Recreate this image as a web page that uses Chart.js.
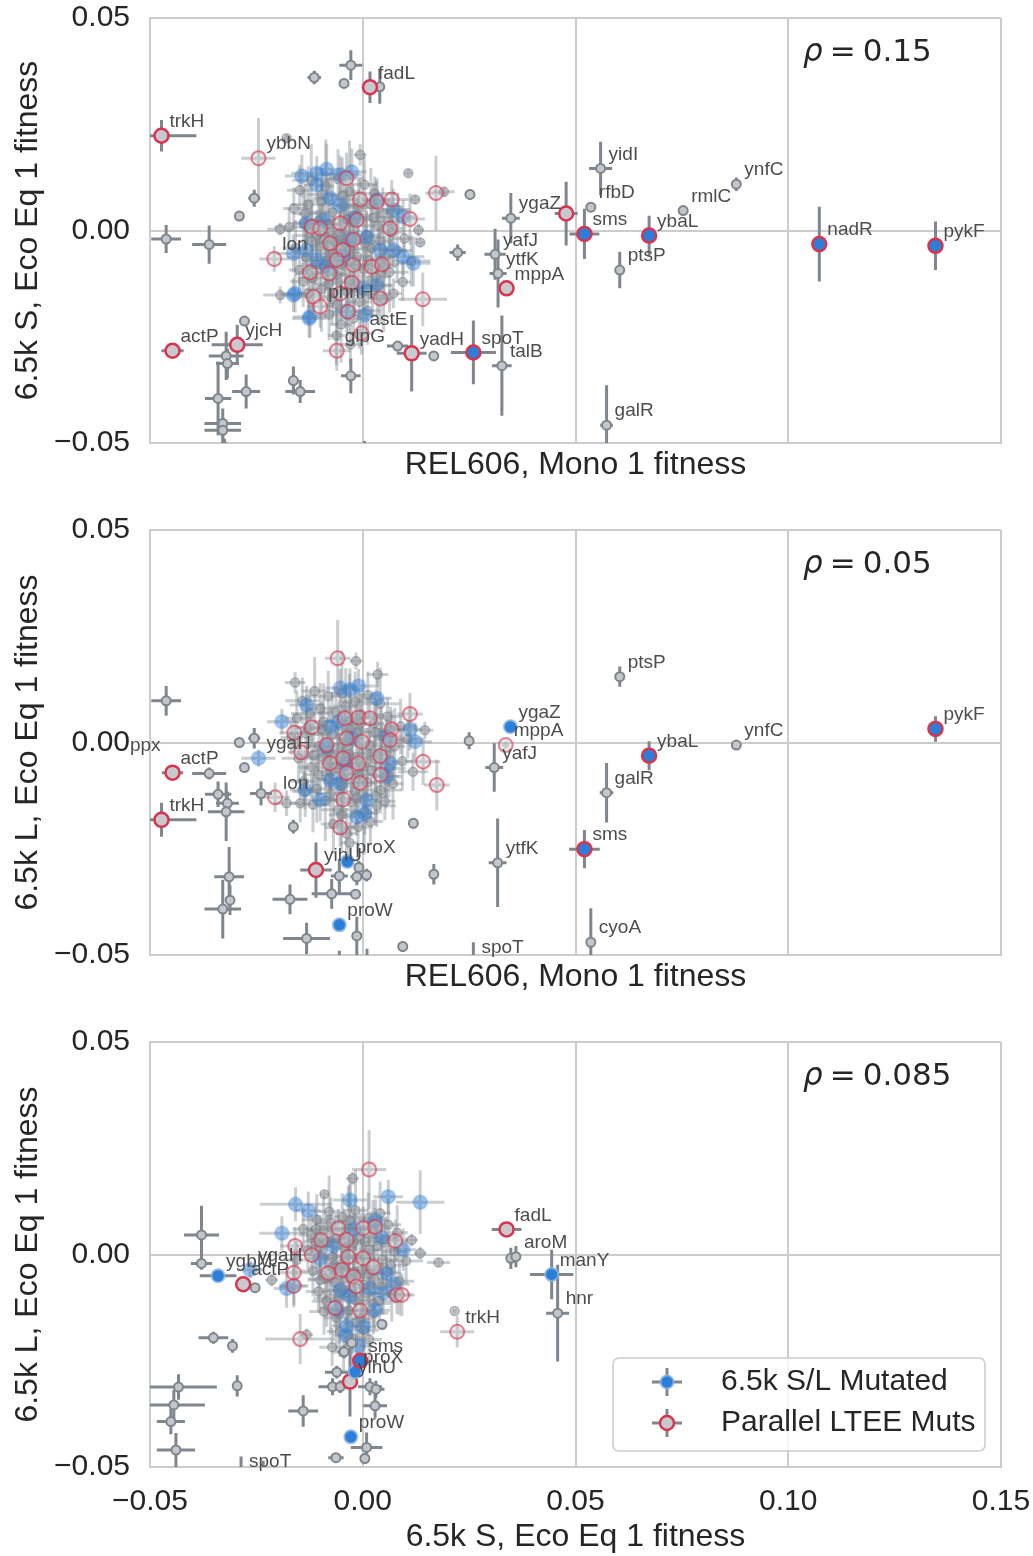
<!DOCTYPE html>
<html>
<head>
<meta charset="utf-8">
<script src="https://cdn.jsdelivr.net/npm/chart.js@4.4.1/dist/chart.umd.min.js"></script>
<style>
  body { margin: 0; background: #fff; }
  canvas { display: block; }
</style>
</head>
<body>
<canvas id="chart-top" width="1033" height="512"></canvas>
<canvas id="chart-mid" width="1033" height="512"></canvas>
<canvas id="chart-bot" width="1033" height="532"></canvas>
<script>
// each row: [x, y, xerr, yerr, gene label (optional)]

const xTicks = [-0.05, 0.00, 0.05, 0.10, 0.15];
const yTicks = [-0.05, 0.00, 0.05];
const rhoValues = ['0.15', '0.05', '0.085'];
const legendNames = ['6.5k S/L Mutated', 'Parallel LTEE Muts'];

// ---- top panel: REL606 Mono 1 vs 6.5k S Eco Eq 1 ----
const topGray = [
  [-0.0006, 0.0178, 0.0015, 0.0025], [0.0107, 0.0135, 0.0008, 0.0008], [0.0123, 0.0073, 0.0010, 0.0010],
  [0.0131, 0.0001, 0.0012, 0.0015], [-0.0194, 0.0003, 0.0030, 0.0015], [-0.0194, -0.0152, 0.0040, 0.0020],
  [0.0072, -0.0148, 0.0020, 0.0035], [-0.0179, 0.0217, 0.0010, 0.0010], [0.0191, 0.0091, 0.0025, 0.0012],
  [0.0135, -0.0028, 0.0010, 0.0010],
  [-0.0148, 0.0095, 0.0030, 0.0060], [-0.0121, 0.0118, 0.0045, 0.0085], [-0.0087, 0.0104, 0.0020, 0.0110],
  [-0.0058, 0.0121, 0.0035, 0.0070], [-0.0031, 0.0092, 0.0025, 0.0120], [0.0004, 0.0108, 0.0030, 0.0065],
  [0.0028, 0.0087, 0.0050, 0.0040], [-0.0162, 0.0052, 0.0025, 0.0050], [-0.0128, 0.0061, 0.0040, 0.0090],
  [-0.0097, 0.0069, 0.0030, 0.0055], [-0.0071, 0.0043, 0.0055, 0.0100], [-0.0043, 0.0058, 0.0025, 0.0075],
  [-0.0012, 0.0036, 0.0035, 0.0045], [0.0019, 0.0062, 0.0045, 0.0085], [0.0047, 0.0041, 0.0020, 0.0060],
  [0.0083, 0.0049, 0.0030, 0.0040], [-0.0173, 0.0008, 0.0035, 0.0045], [-0.0139, 0.0017, 0.0025, 0.0080],
  [-0.0108, -0.0012, 0.0050, 0.0060], [-0.0082, 0.0014, 0.0030, 0.0110], [-0.0054, -0.0006, 0.0040, 0.0050],
  [-0.0023, 0.0019, 0.0025, 0.0090], [0.0008, -0.0011, 0.0035, 0.0070], [0.0036, 0.0011, 0.0045, 0.0055],
  [0.0068, -0.0004, 0.0025, 0.0080], [0.0098, -0.0019, 0.0030, 0.0045], [-0.0158, -0.0041, 0.0030, 0.0065],
  [-0.0133, -0.0063, 0.0045, 0.0050], [-0.0101, -0.0038, 0.0025, 0.0095], [-0.0069, -0.0054, 0.0035, 0.0070],
  [-0.0041, -0.0029, 0.0050, 0.0085], [-0.0013, -0.0061, 0.0030, 0.0060], [0.0021, -0.0042, 0.0040, 0.0100],
  [0.0052, -0.0063, 0.0025, 0.0050], [0.0081, -0.0047, 0.0035, 0.0075], [0.0114, -0.0072, 0.0045, 0.0060],
  [-0.0149, -0.0093, 0.0025, 0.0055], [-0.0118, -0.0112, 0.0035, 0.0090], [-0.0089, -0.0088, 0.0040, 0.0070],
  [-0.0061, -0.0104, 0.0030, 0.0120], [-0.0032, -0.0118, 0.0050, 0.0065], [0.0003, -0.0091, 0.0025, 0.0085],
  [0.0031, -0.0109, 0.0035, 0.0055], [0.0063, -0.0098, 0.0045, 0.0095], [0.0094, -0.0121, 0.0020, 0.0045],
  [-0.0128, -0.0149, 0.0030, 0.0070], [-0.0097, -0.0138, 0.0040, 0.0100], [-0.0072, -0.0161, 0.0025, 0.0060],
  [-0.0039, -0.0143, 0.0035, 0.0085], [-0.0008, -0.0168, 0.0030, 0.0110], [0.0023, -0.0152, 0.0045, 0.0050],
  [0.0049, -0.0163, 0.0020, 0.0075], [-0.0079, -0.0198, 0.0030, 0.0060], [-0.0051, -0.0221, 0.0025, 0.0090],
  [-0.0022, -0.0207, 0.0035, 0.0065], [0.0011, -0.0189, 0.0030, 0.0080], [-0.0062, -0.0247, 0.0020, 0.0070],
  [-0.0029, -0.0268, 0.0025, 0.0050], [-0.0104, 0.0023, 0.0030, 0.0060], [-0.0036, 0.0027, 0.0040, 0.0070],
  [-0.0067, -0.0027, 0.0030, 0.0080], [-0.0019, -0.0081, 0.0035, 0.0060], [-0.0084, -0.0071, 0.0030, 0.0065],
  [-0.0135, 0.0040, 0.0030, 0.0070], [-0.0095, 0.0085, 0.0035, 0.0060], [-0.0048, 0.0082, 0.0030, 0.0090],
  [-0.0010, 0.0055, 0.0040, 0.0065], [0.0025, 0.0030, 0.0030, 0.0080], [0.0060, 0.0022, 0.0035, 0.0055],
  [-0.0120, -0.0025, 0.0030, 0.0075], [-0.0088, -0.0015, 0.0040, 0.0060], [-0.0030, -0.0045, 0.0030, 0.0085],
  [0.0005, -0.0030, 0.0035, 0.0060], [0.0040, -0.0025, 0.0030, 0.0070], [-0.0110, -0.0080, 0.0035, 0.0065],
  [-0.0050, -0.0080, 0.0030, 0.0090], [0.0015, -0.0070, 0.0040, 0.0060], [0.0050, -0.0085, 0.0030, 0.0075],
  [-0.0080, -0.0125, 0.0035, 0.0080], [-0.0020, -0.0135, 0.0030, 0.0065], [0.0035, -0.0130, 0.0035, 0.0070],
  [-0.0060, -0.0175, 0.0030, 0.0085], [-0.0140, -0.0120, 0.0030, 0.0060]
];
const topBlue = [
  [-0.0143, 0.0128, 0.0040, 0.0050], [-0.0108, 0.0135, 0.0060, 0.0040], [-0.0085, 0.0144, 0.0030, 0.0060],
  [-0.0053, 0.0131, 0.0050, 0.0045], [-0.0026, 0.0138, 0.0035, 0.0055], [-0.0108, 0.0107, 0.0030, 0.0035],
  [-0.0077, 0.0076, 0.0040, 0.0060], [-0.0053, 0.0060, 0.0030, 0.0050], [-0.0132, 0.0017, 0.0035, 0.0055],
  [-0.0093, 0.0025, 0.0030, 0.0040], [-0.0163, -0.0054, 0.0040, 0.0045], [-0.0132, -0.0046, 0.0030, 0.0060],
  [-0.0108, -0.0069, 0.0035, 0.0050], [-0.0085, -0.0085, 0.0030, 0.0055], [-0.0030, -0.0022, 0.0040, 0.0045],
  [0.0009, -0.0015, 0.0030, 0.0060], [0.0041, -0.0046, 0.0035, 0.0050], [0.0072, -0.0046, 0.0030, 0.0040],
  [0.0095, -0.0062, 0.0050, 0.0045], [0.0119, -0.0077, 0.0040, 0.0055], [0.0033, 0.0072, 0.0030, 0.0045],
  [0.0072, 0.0048, 0.0035, 0.0050], [0.0095, 0.0032, 0.0030, 0.0040], [-0.0159, -0.0148, 0.0035, 0.0045],
  [-0.0124, -0.0203, 0.0040, 0.0050], [0.0005, -0.0199, 0.0030, 0.0055], [0.0033, -0.0128, 0.0035, 0.0045],
  [0.0001, -0.0136, 0.0030, 0.0060], [-0.0038, -0.0191, 0.0035, 0.0050], [-0.0126, -0.0207, 0.0040, 0.0045],
  [-0.0163, -0.0152, 0.0030, 0.0040], [-0.0045, -0.0060, 0.0030, 0.0050], [-0.0020, 0.0030, 0.0030, 0.0050]
];
const topRed = [
  [-0.0038, 0.0123, 0.0040, 0.0060], [-0.0006, 0.0073, 0.0035, 0.0050], [0.0033, 0.0068, 0.0030, 0.0055],
  [0.0068, 0.0073, 0.0040, 0.0045], [0.0111, 0.0027, 0.0035, 0.0060], [0.0172, 0.0088, 0.0025, 0.0088],
  [-0.0120, 0.0009, 0.0030, 0.0050], [-0.0100, 0.0005, 0.0035, 0.0045], [-0.0053, 0.0017, 0.0030, 0.0060],
  [-0.0014, 0.0025, 0.0040, 0.0050], [0.0064, 0.0005, 0.0030, 0.0045], [-0.0077, -0.0030, 0.0035, 0.0055],
  [-0.0046, -0.0046, 0.0030, 0.0050], [-0.0022, -0.0022, 0.0040, 0.0045], [-0.0061, -0.0069, 0.0030, 0.0060],
  [-0.0022, -0.0081, 0.0035, 0.0050], [0.0021, -0.0085, 0.0030, 0.0055], [0.0045, -0.0080, 0.0040, 0.0045],
  [-0.0124, -0.0099, 0.0030, 0.0050], [-0.0079, -0.0101, 0.0035, 0.0060], [-0.0026, -0.0123, 0.0030, 0.0050],
  [-0.0116, -0.0156, 0.0040, 0.0055], [-0.0053, -0.0148, 0.0030, 0.0045], [-0.0034, -0.0191, 0.0035, 0.0050],
  [0.0041, -0.0160, 0.0030, 0.0060], [0.0141, -0.0162, 0.0057, 0.0063],
  [-0.0245, 0.0170, 0.0040, 0.0095, 'ybbN'], [-0.0208, -0.0067, 0.0035, 0.0030, 'lon'],
  [-0.0100, -0.0179, 0.0030, 0.0050, 'phnH'], [-0.0003, -0.0242, 0.0030, 0.0050, 'astE'],
  [-0.0061, -0.0283, 0.0033, 0.0047, 'glpG']
];
const topGrayHi = [
  [-0.0028, 0.0389, 0.0027, 0.0035], [-0.0114, 0.0360, 0.0016, 0.0016], [-0.0044, 0.0346, 0.0005, 0.0005],
  [0.0040, 0.0338, 0.0012, 0.0040], [-0.0255, 0.0076, 0.0014, 0.0020], [-0.0290, 0.0034, 0.0008, 0.0010],
  [-0.0462, -0.0020, 0.0035, 0.0033], [-0.0361, -0.0033, 0.0040, 0.0045], [0.0252, 0.0085, 0.0012, 0.0012],
  [0.0223, -0.0052, 0.0019, 0.0019],
  [0.0348, 0.0029, 0.0021, 0.0059, 'ygaZ'], [0.0311, -0.0056, 0.0025, 0.0060, 'yafJ'],
  [0.0318, -0.0101, 0.0020, 0.0080, 'ytfK'], [0.0559, 0.0146, 0.0027, 0.0063, 'yidI'],
  [0.0536, 0.0055, 0.0006, 0.0006, 'rfbD'], [0.0878, 0.0109, 0.0006, 0.0016, 'ynfC'],
  [0.0753, 0.0047, 0.0005, 0.0010, 'rmlC'], [0.0604, -0.0093, 0.0006, 0.0043, 'ptsP'],
  [0.0573, -0.0458, 0.0015, 0.0094, 'galR'], [0.0327, -0.0318, 0.0023, 0.0118, 'talB'],
  [-0.0278, -0.0213, 0.0010, 0.0006], [-0.0321, -0.0295, 0.0041, 0.0057], [-0.0318, -0.0313, 0.0027, 0.0035],
  [-0.0274, -0.0379, 0.0033, 0.0040], [-0.0340, -0.0395, 0.0031, 0.0087], [-0.0329, -0.0454, 0.0043, 0.0035],
  [-0.0329, -0.0470, 0.0043, 0.0030], [-0.0325, -0.0510, 0.0010, 0.0020], [-0.0163, -0.0353, 0.0012, 0.0033],
  [-0.0147, -0.0379, 0.0035, 0.0027], [-0.0028, -0.0342, 0.0023, 0.0041], [0.0082, -0.0272, 0.0025, 0.0012],
  [0.0167, -0.0295, 0.0008, 0.0008], [0.0004, -0.0520, 0.0008, 0.0025]
];
const topRedHi = [
  [-0.0473, 0.0223, 0.0082, 0.0037, 'trkH'], [0.0017, 0.0337, 0.0008, 0.0037, 'fadL'],
  [-0.0447, -0.0283, 0.0026, 0.0008, 'actP'], [-0.0295, -0.0269, 0.0060, 0.0047, 'yjcH'],
  [0.0115, -0.0289, 0.0035, 0.0090, 'yadH'], [0.0478, 0.0040, 0.0027, 0.0075],
  [0.0338, -0.0136, 0.0006, 0.0010, 'mppA']
];
const topBlueHi = [];
const topBoth = [
  [0.0521, -0.0008, 0.0035, 0.0059, 'sms'], [0.0673, -0.0012, 0.0006, 0.0047, 'ybaL'],
  [0.1073, -0.0032, 0.0006, 0.0088, 'nadR'], [0.1346, -0.0036, 0.0006, 0.0057, 'pykF'],
  [0.0260, -0.0287, 0.0053, 0.0075, 'spoT']
];

// ---- middle panel: REL606 Mono 1 vs 6.5k L Eco Eq 1 ----
const midGray = [
  [-0.0159, 0.0141, 0.0024, 0.0025], [-0.0016, 0.0192, 0.0015, 0.0020], [0.0146, 0.0029, 0.0020, 0.0020],
  [-0.0179, -0.0143, 0.0030, 0.0030], [-0.0147, -0.0143, 0.0025, 0.0045], [0.0035, 0.0160, 0.0025, 0.0030],
  [-0.0142, 0.0098, 0.0040, 0.0055], [-0.0113, 0.0121, 0.0030, 0.0080], [-0.0081, 0.0109, 0.0055, 0.0060],
  [-0.0049, 0.0116, 0.0025, 0.0100], [-0.0018, 0.0097, 0.0040, 0.0070], [0.0012, 0.0112, 0.0030, 0.0055],
  [0.0041, 0.0091, 0.0045, 0.0085], [-0.0155, 0.0057, 0.0030, 0.0065], [-0.0124, 0.0068, 0.0045, 0.0050],
  [-0.0092, 0.0049, 0.0025, 0.0090], [-0.0063, 0.0071, 0.0040, 0.0060], [-0.0031, 0.0052, 0.0030, 0.0110],
  [-0.0004, 0.0066, 0.0055, 0.0050], [0.0027, 0.0044, 0.0025, 0.0075], [0.0058, 0.0061, 0.0035, 0.0045],
  [0.0089, 0.0038, 0.0040, 0.0065], [-0.0168, 0.0012, 0.0025, 0.0040], [-0.0134, 0.0021, 0.0040, 0.0085],
  [-0.0103, -0.0008, 0.0030, 0.0060], [-0.0072, 0.0019, 0.0050, 0.0100], [-0.0046, -0.0003, 0.0025, 0.0055],
  [-0.0015, 0.0024, 0.0035, 0.0080], [0.0016, -0.0007, 0.0045, 0.0050], [0.0044, 0.0016, 0.0030, 0.0070],
  [0.0075, -0.0009, 0.0025, 0.0090], [0.0106, 0.0008, 0.0035, 0.0045], [-0.0151, -0.0037, 0.0040, 0.0060],
  [-0.0121, -0.0058, 0.0030, 0.0075], [-0.0094, -0.0034, 0.0045, 0.0055], [-0.0060, -0.0051, 0.0025, 0.0095],
  [-0.0033, -0.0027, 0.0035, 0.0065], [-0.0002, -0.0056, 0.0050, 0.0050], [0.0029, -0.0039, 0.0030, 0.0085],
  [0.0061, -0.0061, 0.0040, 0.0060], [0.0093, -0.0044, 0.0025, 0.0070], [0.0118, -0.0069, 0.0035, 0.0045],
  [-0.0139, -0.0091, 0.0030, 0.0055], [-0.0108, -0.0109, 0.0045, 0.0080], [-0.0079, -0.0086, 0.0025, 0.0065],
  [-0.0049, -0.0103, 0.0040, 0.0110], [-0.0019, -0.0116, 0.0030, 0.0060], [0.0011, -0.0094, 0.0035, 0.0075],
  [0.0042, -0.0112, 0.0050, 0.0055], [0.0071, -0.0097, 0.0025, 0.0085], [-0.0117, -0.0146, 0.0035, 0.0065],
  [-0.0088, -0.0137, 0.0030, 0.0095], [-0.0058, -0.0158, 0.0040, 0.0055], [-0.0027, -0.0141, 0.0025, 0.0080],
  [0.0004, -0.0164, 0.0035, 0.0100], [0.0033, -0.0149, 0.0045, 0.0050], [-0.0069, -0.0192, 0.0030, 0.0070],
  [-0.0038, -0.0214, 0.0025, 0.0060], [-0.0011, -0.0199, 0.0035, 0.0085], [0.0018, -0.0186, 0.0030, 0.0055],
  [-0.0096, 0.0032, 0.0030, 0.0065], [-0.0027, 0.0031, 0.0040, 0.0075], [-0.0058, -0.0024, 0.0030, 0.0085],
  [-0.0009, -0.0076, 0.0035, 0.0060], [-0.0074, -0.0068, 0.0030, 0.0070], [0.0052, -0.0138, 0.0025, 0.0045],
  [-0.0031, -0.0236, 0.0020, 0.0050],
  [-0.0130, 0.0035, 0.0030, 0.0070], [-0.0100, 0.0080, 0.0035, 0.0060], [-0.0040, 0.0085, 0.0030, 0.0090],
  [-0.0005, 0.0045, 0.0040, 0.0065], [0.0030, 0.0025, 0.0030, 0.0080], [0.0065, 0.0030, 0.0035, 0.0055],
  [-0.0115, -0.0030, 0.0030, 0.0075], [-0.0080, -0.0020, 0.0040, 0.0060], [-0.0025, -0.0040, 0.0030, 0.0085],
  [0.0010, -0.0025, 0.0035, 0.0060], [0.0045, -0.0020, 0.0030, 0.0070], [-0.0105, -0.0075, 0.0035, 0.0065],
  [-0.0045, -0.0085, 0.0030, 0.0090], [0.0020, -0.0065, 0.0040, 0.0060], [0.0055, -0.0080, 0.0030, 0.0075],
  [-0.0075, -0.0120, 0.0035, 0.0080], [-0.0015, -0.0130, 0.0030, 0.0065], [0.0030, -0.0125, 0.0035, 0.0070],
  [-0.0050, -0.0170, 0.0030, 0.0085], [-0.0135, -0.0115, 0.0030, 0.0060]
];
const midBlue = [
  [-0.0053, 0.0128, 0.0035, 0.0045], [-0.0030, 0.0124, 0.0030, 0.0050], [-0.0010, 0.0133, 0.0040, 0.0040],
  [0.0033, 0.0104, 0.0035, 0.0050], [-0.0132, 0.0088, 0.0040, 0.0045], [-0.0190, 0.0049, 0.0035, 0.0030],
  [-0.0077, 0.0037, 0.0030, 0.0050], [-0.0057, 0.0049, 0.0035, 0.0045], [-0.0085, -0.0010, 0.0030, 0.0055],
  [0.0056, 0.0014, 0.0035, 0.0045], [0.0111, 0.0031, 0.0030, 0.0050], [0.0123, 0.0002, 0.0040, 0.0045],
  [0.0064, -0.0049, 0.0030, 0.0055], [0.0056, -0.0080, 0.0035, 0.0045], [-0.0077, -0.0088, 0.0030, 0.0050],
  [-0.0053, -0.0096, 0.0035, 0.0045], [-0.0100, -0.0135, 0.0040, 0.0050], [0.0009, -0.0135, 0.0030, 0.0055],
  [-0.0014, -0.0175, 0.0035, 0.0045], [0.0005, -0.0167, 0.0030, 0.0050], [-0.0136, -0.0112, 0.0035, 0.0045],
  [-0.0025, 0.0010, 0.0030, 0.0050], [-0.0040, -0.0050, 0.0030, 0.0045],
  [-0.0245, -0.0037, 0.0040, 0.0020, 'ygaH']
];
const midRed = [
  [-0.0161, 0.0023, 0.0035, 0.0045], [-0.0145, -0.0023, 0.0030, 0.0050], [-0.0120, 0.0036, 0.0035, 0.0045],
  [-0.0085, -0.0006, 0.0030, 0.0055], [-0.0077, -0.0049, 0.0035, 0.0045], [-0.0042, 0.0057, 0.0030, 0.0050],
  [-0.0010, 0.0059, 0.0035, 0.0045], [0.0017, 0.0057, 0.0030, 0.0055], [0.0068, 0.0031, 0.0035, 0.0045],
  [0.0111, 0.0067, 0.0030, 0.0050], [-0.0038, 0.0010, 0.0035, 0.0045], [-0.0002, 0.0002, 0.0030, 0.0050],
  [-0.0046, -0.0037, 0.0035, 0.0045], [-0.0010, -0.0049, 0.0030, 0.0055], [-0.0038, -0.0072, 0.0035, 0.0045],
  [0.0041, -0.0032, 0.0030, 0.0050], [0.0064, 0.0006, 0.0035, 0.0045], [0.0042, -0.0076, 0.0030, 0.0055],
  [-0.0006, -0.0095, 0.0035, 0.0045], [0.0142, -0.0045, 0.0040, 0.0055], [0.0174, -0.0100, 0.0030, 0.0060],
  [-0.0046, -0.0134, 0.0035, 0.0045], [-0.0059, 0.0198, 0.0030, 0.0090], [-0.0053, -0.0200, 0.0037, 0.0045],
  [0.0336, -0.0006, 0.0008, 0.0008, 'mppA'], [-0.0206, -0.0129, 0.0035, 0.0035, 'lon']
];
const midGrayHi = [
  [-0.0462, 0.0098, 0.0035, 0.0035], [-0.0361, -0.0073, 0.0040, 0.0014], [-0.0290, 0.0000, 0.0008, 0.0008],
  [-0.0255, 0.0010, 0.0014, 0.0024], [-0.0278, -0.0059, 0.0010, 0.0008], [-0.0340, -0.0122, 0.0031, 0.0030],
  [-0.0318, -0.0143, 0.0027, 0.0028], [-0.0321, -0.0163, 0.0043, 0.0069], [-0.0239, -0.0120, 0.0026, 0.0028],
  [-0.0163, -0.0198, 0.0008, 0.0016], [-0.0055, -0.0314, 0.0020, 0.0040], [-0.0014, -0.0316, 0.0015, 0.0020],
  [0.0009, -0.0312, 0.0012, 0.0015], [-0.0009, -0.0294, 0.0010, 0.0015], [-0.0073, -0.0356, 0.0047, 0.0035],
  [-0.0017, -0.0357, 0.0012, 0.0010], [-0.0171, -0.0369, 0.0041, 0.0035], [-0.0314, -0.0316, 0.0035, 0.0070],
  [-0.0312, -0.0371, 0.0010, 0.0035], [-0.0329, -0.0392, 0.0043, 0.0069], [-0.0132, -0.0461, 0.0055, 0.0037],
  [-0.0014, -0.0455, 0.0010, 0.0045], [0.0094, -0.0480, 0.0006, 0.0012], [0.0119, -0.0190, 0.0006, 0.0012],
  [0.0167, -0.0310, 0.0006, 0.0024], [0.0250, 0.0004, 0.0010, 0.0020], [-0.0055, -0.0520, 0.0010, 0.0030],
  [0.0010, -0.0515, 0.0010, 0.0030],
  [0.0317, -0.0283, 0.0021, 0.0104, 'ytfK'], [0.0309, -0.0059, 0.0021, 0.0057, 'yafJ'],
  [0.0604, 0.0155, 0.0006, 0.0024, 'ptsP'], [0.0878, -0.0006, 0.0006, 0.0006, 'ynfC'],
  [0.0573, -0.0118, 0.0016, 0.0070, 'galR'], [0.0536, -0.0470, 0.0006, 0.0080, 'cyoA'],
  [0.0260, -0.0515, 0.0006, 0.0045, 'spoT'], [-0.0566, -0.0040, 0.0010, 0.0010, 'ppx']
];
const midRedHi = [
  [-0.0447, -0.0071, 0.0025, 0.0018, 'actP'], [-0.0473, -0.0182, 0.0082, 0.0040, 'trkH'],
  [-0.0110, -0.0300, 0.0037, 0.0065, 'yihU']
];
const midBlueHi = [
  [-0.0055, -0.0429, 0.0012, 0.0008, 'proW'], [-0.0036, -0.0280, 0.0010, 0.0010, 'proX'],
  [0.0347, 0.0037, 0.0012, 0.0010, 'ygaZ']
];
const midBoth = [
  [0.0673, -0.0031, 0.0006, 0.0034, 'ybaL'], [0.1346, 0.0032, 0.0006, 0.0030, 'pykF'],
  [0.0521, -0.0251, 0.0036, 0.0045, 'sms']
];

// ---- bottom panel: 6.5k S Eco Eq 1 vs 6.5k L Eco Eq 1 ----
const botGray = [
  [-0.0024, 0.0179, 0.0015, 0.0015], [-0.0090, 0.0142, 0.0010, 0.0008], [0.0115, 0.0034, 0.0015, 0.0015],
  [0.0135, 0.0003, 0.0015, 0.0015], [0.0178, -0.0019, 0.0027, 0.0010], [0.0216, -0.0133, 0.0005, 0.0005],
  [-0.0214, -0.0060, 0.0015, 0.0015], [-0.0132, -0.0189, 0.0015, 0.0015], [0.0046, -0.0166, 0.0010, 0.0010],
  [-0.0108, 0.0082, 0.0035, 0.0060], [-0.0079, 0.0101, 0.0025, 0.0085], [-0.0048, 0.0089, 0.0040, 0.0055],
  [-0.0017, 0.0104, 0.0030, 0.0095], [0.0013, 0.0086, 0.0045, 0.0060], [0.0041, 0.0097, 0.0025, 0.0075],
  [-0.0121, 0.0046, 0.0030, 0.0050], [-0.0092, 0.0057, 0.0040, 0.0080], [-0.0063, 0.0038, 0.0025, 0.0060],
  [-0.0034, 0.0061, 0.0035, 0.0100], [-0.0006, 0.0043, 0.0050, 0.0055], [0.0024, 0.0058, 0.0030, 0.0070],
  [0.0053, 0.0036, 0.0040, 0.0050], [0.0081, 0.0051, 0.0025, 0.0065], [-0.0129, 0.0009, 0.0035, 0.0045],
  [-0.0101, 0.0018, 0.0025, 0.0075], [-0.0072, -0.0006, 0.0045, 0.0060], [-0.0043, 0.0014, 0.0030, 0.0090],
  [-0.0014, -0.0009, 0.0040, 0.0050], [0.0017, 0.0011, 0.0025, 0.0080], [0.0046, -0.0012, 0.0035, 0.0060],
  [0.0074, 0.0007, 0.0030, 0.0045], [0.0102, -0.0015, 0.0040, 0.0055], [-0.0117, -0.0039, 0.0030, 0.0060],
  [-0.0088, -0.0057, 0.0040, 0.0075], [-0.0061, -0.0032, 0.0025, 0.0050], [-0.0031, -0.0054, 0.0035, 0.0095],
  [-0.0002, -0.0036, 0.0045, 0.0060], [0.0028, -0.0058, 0.0030, 0.0070], [0.0057, -0.0041, 0.0025, 0.0055],
  [0.0086, -0.0063, 0.0035, 0.0080], [-0.0104, -0.0087, 0.0030, 0.0050], [-0.0076, -0.0103, 0.0040, 0.0085],
  [-0.0047, -0.0084, 0.0025, 0.0060], [-0.0018, -0.0107, 0.0035, 0.0070], [0.0011, -0.0091, 0.0030, 0.0100],
  [0.0039, -0.0109, 0.0045, 0.0055], [0.0068, -0.0093, 0.0025, 0.0065], [-0.0091, -0.0134, 0.0035, 0.0055],
  [-0.0062, -0.0149, 0.0030, 0.0080], [-0.0033, -0.0131, 0.0040, 0.0060], [-0.0004, -0.0152, 0.0025, 0.0090],
  [0.0025, -0.0138, 0.0035, 0.0050], [-0.0054, -0.0181, 0.0030, 0.0060], [-0.0026, -0.0196, 0.0025, 0.0070],
  [0.0003, -0.0178, 0.0035, 0.0055], [-0.0072, -0.0218, 0.0030, 0.0045], [-0.0085, 0.0031, 0.0030, 0.0060],
  [-0.0022, 0.0027, 0.0040, 0.0070], [-0.0050, -0.0022, 0.0030, 0.0085], [0.0002, -0.0071, 0.0035, 0.0060],
  [-0.0065, -0.0066, 0.0030, 0.0070], [-0.0155, -0.0013, 0.0030, 0.0045], [-0.0140, 0.0060, 0.0025, 0.0050],
  [-0.0110, 0.0030, 0.0030, 0.0065], [-0.0075, 0.0075, 0.0035, 0.0060], [-0.0030, 0.0080, 0.0030, 0.0085],
  [0.0005, 0.0030, 0.0040, 0.0060], [0.0035, 0.0020, 0.0030, 0.0075], [0.0065, -0.0025, 0.0035, 0.0055],
  [-0.0100, -0.0060, 0.0030, 0.0070], [-0.0070, -0.0030, 0.0040, 0.0060], [-0.0020, -0.0040, 0.0030, 0.0080],
  [0.0015, -0.0045, 0.0035, 0.0060], [0.0045, -0.0075, 0.0030, 0.0065], [-0.0085, -0.0110, 0.0035, 0.0060],
  [-0.0035, -0.0090, 0.0030, 0.0085], [0.0025, -0.0115, 0.0040, 0.0055], [-0.0055, -0.0140, 0.0030, 0.0070],
  [-0.0015, -0.0160, 0.0035, 0.0075], [0.0015, -0.0200, 0.0030, 0.0060], [-0.0045, -0.0230, 0.0025, 0.0050],
  [-0.0110, 0.0060, 0.0030, 0.0055], [0.0060, 0.0070, 0.0030, 0.0060]
];
const botBlue = [
  [0.0135, 0.0123, 0.0057, 0.0075], [-0.0158, 0.0118, 0.0084, 0.0040], [-0.0128, 0.0103, 0.0030, 0.0045],
  [-0.0030, 0.0128, 0.0040, 0.0060], [0.0060, 0.0136, 0.0035, 0.0040], [-0.0190, 0.0050, 0.0053, 0.0040],
  [-0.0162, -0.0074, 0.0035, 0.0045], [-0.0179, -0.0080, 0.0030, 0.0045], [-0.0038, -0.0168, 0.0035, 0.0045],
  [0.0001, -0.0170, 0.0030, 0.0050], [0.0029, -0.0131, 0.0035, 0.0045], [0.0095, 0.0011, 0.0030, 0.0050],
  [0.0056, -0.0044, 0.0035, 0.0045], [0.0048, -0.0091, 0.0030, 0.0050], [0.0017, -0.0080, 0.0035, 0.0045],
  [-0.0053, -0.0084, 0.0030, 0.0050], [-0.0030, -0.0099, 0.0035, 0.0045], [-0.0100, -0.0010, 0.0030, 0.0050],
  [-0.0070, 0.0020, 0.0035, 0.0045], [0.0030, 0.0080, 0.0030, 0.0050], [0.0045, 0.0040, 0.0035, 0.0045],
  [-0.0060, -0.0130, 0.0030, 0.0050], [0.0075, -0.0070, 0.0035, 0.0045], [-0.0020, 0.0060, 0.0030, 0.0050],
  [-0.0040, -0.0190, 0.0030, 0.0045], [-0.0010, -0.0215, 0.0035, 0.0040],
  [-0.0265, -0.0036, 0.0030, 0.0020, 'ygaH']
];
const botRed = [
  [-0.0159, 0.0020, 0.0035, 0.0045], [-0.0120, -0.0001, 0.0030, 0.0050], [-0.0162, -0.0043, 0.0035, 0.0045],
  [-0.0162, -0.0074, 0.0030, 0.0050], [0.0080, -0.0095, 0.0035, 0.0045], [0.0092, -0.0095, 0.0030, 0.0050],
  [-0.0065, -0.0126, 0.0035, 0.0045], [-0.0006, -0.0132, 0.0030, 0.0055], [-0.0057, 0.0062, 0.0035, 0.0045],
  [0.0001, 0.0062, 0.0030, 0.0050], [0.0029, 0.0065, 0.0035, 0.0045], [0.0076, 0.0032, 0.0030, 0.0050],
  [-0.0098, 0.0034, 0.0035, 0.0045], [-0.0038, 0.0034, 0.0030, 0.0050], [-0.0049, -0.0036, 0.0035, 0.0045],
  [-0.0022, -0.0052, 0.0030, 0.0050], [-0.0081, -0.0044, 0.0035, 0.0045], [0.0001, -0.0009, 0.0030, 0.0050],
  [-0.0034, -0.0005, 0.0035, 0.0045], [0.0025, -0.0030, 0.0030, 0.0050], [-0.0015, -0.0075, 0.0035, 0.0045],
  [-0.0147, -0.0199, 0.0082, 0.0059], [0.0015, 0.0200, 0.0040, 0.0093],
  [0.0222, -0.0182, 0.0040, 0.0037, 'trkH']
];
const botGrayHi = [
  [-0.0379, 0.0046, 0.0041, 0.0069], [-0.0379, -0.0021, 0.0025, 0.0015], [-0.0253, -0.0078, 0.0008, 0.0008],
  [-0.0351, -0.0196, 0.0035, 0.0014], [-0.0306, -0.0215, 0.0006, 0.0016], [-0.0295, -0.0309, 0.0006, 0.0025],
  [-0.0433, -0.0312, 0.0090, 0.0030], [-0.0444, -0.0354, 0.0073, 0.0035], [-0.0451, -0.0393, 0.0033, 0.0030],
  [-0.0439, -0.0460, 0.0045, 0.0040], [-0.0140, -0.0368, 0.0035, 0.0037], [0.0009, -0.0454, 0.0037, 0.0035],
  [0.0005, -0.0480, 0.0010, 0.0012], [-0.0063, -0.0478, 0.0018, 0.0010], [0.0029, -0.0356, 0.0028, 0.0028],
  [-0.0071, -0.0311, 0.0033, 0.0020], [-0.0053, -0.0311, 0.0015, 0.0015], [0.0017, -0.0311, 0.0028, 0.0020],
  [0.0031, -0.0317, 0.0020, 0.0020], [-0.0061, -0.0277, 0.0028, 0.0015], [-0.0044, -0.0229, 0.0015, 0.0015],
  [-0.0026, -0.0208, 0.0015, 0.0015], [0.0045, -0.0164, 0.0010, 0.0010], [-0.0234, -0.0525, 0.0006, 0.0040],
  [-0.0515, -0.0002, 0.0010, 0.0005], [0.0348, -0.0009, 0.0006, 0.0025],
  [0.0360, -0.0005, 0.0010, 0.0025, 'aroM'], [0.0458, -0.0138, 0.0027, 0.0114, 'hnr'],
  [-0.0286, -0.0520, 0.0006, 0.0045, 'spoT']
];
const botRedHi = [
  [0.0338, 0.0059, 0.0035, 0.0010, 'fadL'], [-0.0281, -0.0070, 0.0015, 0.0010, 'actP'],
  [-0.0030, -0.0299, 0.0010, 0.0082, 'yihU']
];
const botBlueHi = [
  [-0.0340, -0.0050, 0.0043, 0.0012, 'ygbM'], [0.0444, -0.0047, 0.0051, 0.0058, 'manY'],
  [-0.0018, -0.0276, 0.0012, 0.0012, 'proX'], [-0.0028, -0.0429, 0.0012, 0.0008, 'proW']
];
const botBoth = [
  [-0.0006, -0.0250, 0.0015, 0.0015, 'sms']
];

const FONT = '"Liberation Sans", Arial, sans-serif';
const TEXT = '#262626';
const GRID = '#cccccc';
const BAR_FAINT = 'rgba(132,138,146,0.42)';
const BAR_STRONG = '#80868e';
const BLUE = '#2c7fd9';
const RED = '#d9334f';

function fmt(v) {
  if (Math.abs(v) < 1e-9) return '0.00';
  return (v < 0 ? '\u2212' : '') + Math.abs(v).toFixed(2);
}

function pts(rows) {
  return rows.map(r => ({ x: r[0], y: r[1], xe: r[2], ye: r[3], name: r[4] || '' }));
}

// error bars are drawn under each dataset's own markers
const errorBars = {
  id: 'errorBars',
  beforeDatasetDraw(chart, args) {
    const ds = chart.data.datasets[args.index];
    const xs = chart.scales.x, ys = chart.scales.y;
    const a = chart.chartArea;
    const ctx = chart.ctx;
    ctx.save();
    ctx.beginPath();
    ctx.rect(a.left, a.top, a.right - a.left, a.bottom - a.top);
    ctx.clip();
    ctx.strokeStyle = ds.barColor;
    ctx.lineWidth = 3;
    ds.data.forEach(p => {
      const px = xs.getPixelForValue(p.x), py = ys.getPixelForValue(p.y);
      ctx.beginPath();
      ctx.moveTo(xs.getPixelForValue(p.x - p.xe), py);
      ctx.lineTo(xs.getPixelForValue(p.x + p.xe), py);
      ctx.moveTo(px, ys.getPixelForValue(p.y - p.ye));
      ctx.lineTo(px, ys.getPixelForValue(p.y + p.ye));
      ctx.stroke();
    });
    ctx.restore();
  },
  afterDatasetsDraw(chart) {
    const xs = chart.scales.x, ys = chart.scales.y;
    const ctx = chart.ctx;
    ctx.save();
    ctx.font = '19px ' + FONT;
    ctx.fillStyle = '#4d4d4d';
    ctx.textBaseline = 'middle';
    ctx.textAlign = 'left';
    chart.data.datasets.forEach(ds => {
      ds.data.forEach(p => {
        if (!p.name) return;
        ctx.fillText(p.name, xs.getPixelForValue(p.x) + 8, ys.getPixelForValue(p.y) - 14);
      });
    });
    ctx.restore();
  }
};

function drawIcon(ctx, cx, cy, kind) {
  ctx.strokeStyle = BAR_STRONG;
  ctx.lineWidth = 3;
  ctx.beginPath();
  ctx.moveTo(cx - 15, cy); ctx.lineTo(cx + 15, cy);
  ctx.moveTo(cx, cy - 14); ctx.lineTo(cx, cy + 14);
  ctx.stroke();
  ctx.beginPath();
  if (kind === 'blue') {
    ctx.arc(cx, cy, 6.5, 0, Math.PI * 2);
    ctx.fillStyle = BLUE; ctx.fill();
    ctx.strokeStyle = 'rgba(140,180,230,0.8)'; ctx.lineWidth = 2; ctx.stroke();
  } else {
    ctx.arc(cx, cy, 7, 0, Math.PI * 2);
    ctx.fillStyle = '#c7c9cd'; ctx.fill();
    ctx.strokeStyle = RED; ctx.lineWidth = 2.5; ctx.stroke();
  }
}

function makePanel(id, groups, rho, xTitle, yTitle, showXTicks, withLegend, axisH, titlePad) {
  const styles = [
    { key: 'gray', r: 4.5, bg: 'rgba(145,150,157,0.5)', bd: 'rgba(118,124,132,0.5)', bw: 1.5, bar: BAR_FAINT },
    { key: 'blue', r: 7, bg: 'rgba(44,127,217,0.45)', bd: 'rgba(44,127,217,0.2)', bw: 2, bar: BAR_FAINT },
    { key: 'red', r: 7, bg: 'rgba(190,193,197,0.35)', bd: 'rgba(217,51,79,0.6)', bw: 2, bar: BAR_FAINT },
    { key: 'grayHi', r: 4.5, bg: '#c3c6ca', bd: '#7f858d', bw: 2, bar: BAR_STRONG },
    { key: 'redHi', r: 7, bg: '#c7c9cd', bd: RED, bw: 2.5, bar: BAR_STRONG },
    { key: 'blueHi', r: 6.5, bg: BLUE, bd: 'rgba(140,180,230,0.8)', bw: 2, bar: BAR_STRONG },
    { key: 'both', r: 7, bg: BLUE, bd: RED, bw: 2.5, bar: BAR_STRONG }
  ];
  const datasets = styles.map((s, i) => ({
    data: pts(groups[s.key]),
    pointRadius: s.r,
    pointBackgroundColor: s.bg,
    pointBorderColor: s.bd,
    pointBorderWidth: s.bw,
    barColor: s.bar,
    order: styles.length - i,
    clip: 0
  }));

  const extras = {
    id: 'extras',
    afterDraw(chart) {
      const a = chart.chartArea;
      const ctx = chart.ctx;
      ctx.save();
      // correlation annotation
      let x = a.left + 653;
      const y = a.top + 43;
      ctx.fillStyle = TEXT;
      ctx.textBaseline = 'alphabetic';
      ctx.textAlign = 'left';
      ctx.font = 'italic 31px "DejaVu Sans"';
      ctx.fillText('\u03c1', x, y);
      x += ctx.measureText('\u03c1').width + 7;
      ctx.font = '31px "DejaVu Sans"';
      ctx.fillText('=', x, y);
      x += ctx.measureText('=').width + 7;
      ctx.fillText(rho, x, y);

      if (withLegend) {
        const w = 372, h = 93;
        const lx = a.right - 16 - w, ly = a.bottom - 16 - h;
        ctx.beginPath();
        ctx.roundRect(lx, ly, w, h, 6);
        ctx.fillStyle = 'rgba(255,255,255,0.8)';
        ctx.fill();
        ctx.strokeStyle = GRID;
        ctx.lineWidth = 1.5;
        ctx.stroke();
        const kinds = ['blue', 'red'];
        legendNames.forEach((name, i) => {
          const cy = ly + 24 + i * 41;
          drawIcon(ctx, lx + 54, cy, kinds[i]);
          ctx.fillStyle = TEXT;
          ctx.font = '30px ' + FONT;
          ctx.textBaseline = 'middle';
          ctx.fillText(name, lx + 108, cy);
        });
      }
      ctx.restore();
    }
  };

  return new Chart(document.getElementById(id), {
    type: 'scatter',
    data: { datasets },
    plugins: [errorBars, extras],
    options: {
      responsive: false,
      animation: false,
      events: [],
      layout: { padding: { left: 0, right: 32, top: 18, bottom: 0 } },
      plugins: { legend: { display: false }, tooltip: { enabled: false } },
      scales: {
        x: {
          type: 'linear',
          min: xTicks[0],
          max: xTicks[xTicks.length - 1],
          afterBuildTicks: s => { s.ticks = xTicks.map(v => ({ value: v })); },
          afterFit: s => { s.height = axisH; s.paddingLeft = 0; s.paddingRight = 0; },
          ticks: { display: showXTicks, padding: 17, color: TEXT, font: { family: FONT, size: 30 }, callback: fmt },
          grid: { color: GRID, lineWidth: 2, drawTicks: false },
          border: { color: GRID, width: 2 },
          title: { display: true, text: xTitle, color: TEXT, font: { family: FONT, size: 32 },
                   padding: { top: 0, bottom: titlePad } }
        },
        y: {
          type: 'linear',
          min: yTicks[0],
          max: yTicks[yTicks.length - 1],
          afterBuildTicks: s => { s.ticks = yTicks.map(v => ({ value: v })); },
          afterFit: s => { s.width = 150; s.paddingTop = 0; s.paddingBottom = 0; },
          ticks: { padding: 20, color: TEXT, font: { family: FONT, size: 30 }, callback: fmt },
          grid: { color: GRID, lineWidth: 2, drawTicks: false },
          border: { color: GRID, width: 2 },
          title: { display: true, text: yTitle, color: TEXT, font: { family: FONT, size: 32 },
                   padding: { top: 9, bottom: 0 } }
        }
      }
    }
  });
}

makePanel('chart-top',
  { gray: topGray, blue: topBlue, red: topRed, grayHi: topGrayHi, redHi: topRedHi, blueHi: topBlueHi, both: topBoth },
  rhoValues[0], 'REL606, Mono 1 fitness', '6.5k S, Eco Eq 1 fitness', false, false, 69, 28);

makePanel('chart-mid',
  { gray: midGray, blue: midBlue, red: midRed, grayHi: midGrayHi, redHi: midRedHi, blueHi: midBlueHi, both: midBoth },
  rhoValues[1], 'REL606, Mono 1 fitness', '6.5k L, Eco Eq 1 fitness', false, false, 69, 28);

makePanel('chart-bot',
  { gray: botGray, blue: botBlue, red: botRed, grayHi: botGrayHi, redHi: botRedHi, blueHi: botBlueHi, both: botBoth },
  rhoValues[2], '6.5k S, Eco Eq 1 fitness', '6.5k L, Eco Eq 1 fitness', true, true, 89, 0);
</script>
</body>
</html>
